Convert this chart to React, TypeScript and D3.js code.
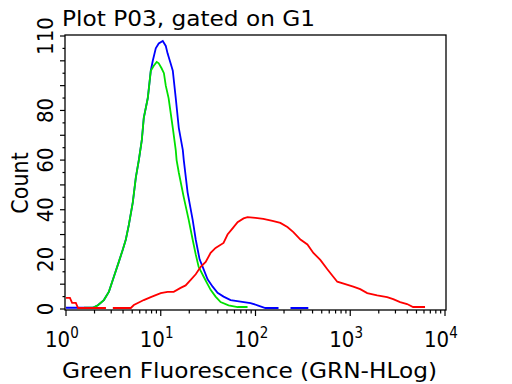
import React from 'react'
import * as d3 from 'd3'

// histogram points: fluorescence (GRN-HLog) and count, null = gap
const blueX = [1.0, 1.92, 2.17, 2.51, 2.84, 3.2, 3.61, 3.98, 4.28, 4.61, 5.07, 5.46, 5.87, 6.31, 6.62, 7.3, 7.85, 8.24, 8.86, 9.52, 10.5, 11.3, 11.8, 12.7, 13.4, 14.4, 15.5, 17.1, 17.5, 19.2, 21.7, 23.4, 25.7, 27.7, 31.2, 35.3, 39.8, 46.0, 54.6, 69.5, 88.6, 105, 127, 175, 200, 234, 361]
const blueY = [0.5, 0.5, 1.5, 3.6, 7, 13, 19, 24, 28, 34, 43, 53, 60, 68, 77, 85, 96, 100, 105, 107, 108, 106, 103, 99, 96, 85, 73, 64, 60, 47, 36, 28, 20, 17, 12, 9, 6.5, 5, 3.6, 3, 2.4, 1.5, 0.4, 0.4, null, 0.4, 0.4]

const greenX = [1.55, 1.92, 2.17, 2.51, 2.84, 3.2, 3.61, 3.98, 4.28, 4.61, 5.07, 5.46, 5.87, 6.31, 6.62, 7.3, 7.85, 8.44, 9.07, 9.52, 10.2, 10.8, 11.3, 12.1, 13.4, 14.4, 14.7, 15.5, 17.5, 19.7, 21.7, 23.4, 25.1, 28.4, 31.2, 33.6, 37.9, 42.8, 52.0, 64.7, 82.4]
const greenY = [0.5, 0.5, 1.5, 3.6, 7, 13, 19, 24, 28, 34, 43, 53, 60, 68, 77, 85, 96, 98, 99.5, 99, 97, 95, 90, 85, 73, 64, 60, 55, 45, 36, 28, 22, 17, 13, 10, 7.7, 5, 2.8, 1.5, 0.8, 0.8]

const redX = [1.0, 1.1, 1.16, 1.27, 1.34, 2.64, 2.9, 3.12, 4.83, 5.2, 6.16, 6.62, 7.85, 8.86, 10.0, 11.8, 13.7, 16.2, 18.3, 20.7, 23.4, 26.4, 29.8, 33.6, 37.9, 46.0, 50.7, 57.3, 64.7, 74.8, 82.4, 100, 121, 151, 183, 217, 251, 298, 353, 408, 483, 573, 662, 730, 886, 1076, 1274, 1510, 1924, 2450, 2838, 3360, 3981, 4604, 6155]
const redY = [4.5, 4.5, 2.5, 2.5, 0.4, 0.4, null, 0.4, 0.4, 1.6, 3, 3.6, 4.8, 5.6, 6.4, 6.9, 6.9, 8.5, 9.5, 11.7, 14, 17, 19, 22.6, 24.6, 26.6, 30, 32.5, 35, 36.5, 37, 36.7, 36.3, 35.5, 34.7, 33, 31, 28, 26, 22.6, 19.8, 16, 13, 11, 10, 9, 8, 6.4, 5.5, 4.8, 4, 2.8, 2, 0.8, 0.8]

const yLabelTicks = [0, 20, 40, 60, 80, 110]
const decades = [0, 1, 2, 3, 4]

const title = 'Plot P03, gated on G1'
const xTitle = 'Green Fluorescence (GRN-HLog)'
const yTitle = 'Count'

const font = 'DejaVu Sans Condensed, DejaVu Sans, sans-serif'
const wideFont = 'DejaVu Sans, Verdana, sans-serif'

export default function App() {
  const left = 65, right = 446, top = 35, bottom = 310

  const x = d3.scaleLog().domain([1, 10000]).range([66, 445])
  const y = d3.scaleLinear().domain([0, 110]).range([309, 36])

  const pathFor = (xs: number[], ys: (number | null)[]) => {
    const pts = xs.map((v, i) => [v, ys[i]] as [number, number | null])
    const gen = d3.line<[number, number | null]>()
      .defined(d => d[1] !== null)
      .x(d => x(d[0]))
      .y(d => y(d[1] as number))
    return gen(pts) || ''
  }

  // minor ticks on the log axis (2..9 in each decade)
  const xMinor: number[] = []
  for (let e = 0; e < 4; e++) for (let m = 2; m < 10; m++) xMinor.push(m * Math.pow(10, e))
  const yMajor = d3.range(0, 111, 10)
  const yMinor = d3.range(5, 110, 10)

  return (
    <div style={{ position: 'fixed', left: 0, top: 0 }}>
      <svg width={512} height={384} style={{ display: 'block', background: '#fff' }}>
        <text x={62} y={26} fontFamily={wideFont} fontSize={22} textLength={253} lengthAdjust="spacingAndGlyphs" fill="#000">{title}</text>

        {/* curves */}
        <path d={pathFor(blueX, blueY)} fill="none" stroke="#0000ff" strokeWidth={1.8} />
        <path d={pathFor(greenX, greenY)} fill="none" stroke="#00e000" strokeWidth={1.8} />
        <path d={pathFor(redX, redY)} fill="none" stroke="#ff0000" strokeWidth={1.8} />

        {/* frame */}
        <rect x={left} y={top} width={right - left} height={bottom - top} fill="none" stroke="#000" strokeWidth={1.3} />

        {/* y ticks */}
        {yMajor.map(v => (
          <line key={'ym' + v} x1={left - 5} x2={left} y1={y(v)} y2={y(v)} stroke="#000" strokeWidth={1.2} />
        ))}
        {yMinor.map(v => (
          <line key={'yn' + v} x1={left - 2.5} x2={left} y1={y(v)} y2={y(v)} stroke="#000" strokeWidth={1.2} />
        ))}
        {yLabelTicks.map(v => (
          <text key={'yl' + v} transform={`translate(${left - 12},${y(v)}) rotate(-90)`} textAnchor="middle"
            fontFamily={font} fontSize={22} fill="#000">{v}</text>
        ))}

        {/* x ticks */}
        {decades.map(e => (
          <line key={'xm' + e} x1={x(Math.pow(10, e))} x2={x(Math.pow(10, e))} y1={bottom} y2={bottom + 6} stroke="#000" strokeWidth={1.2} />
        ))}
        {xMinor.map(v => (
          <line key={'xn' + v} x1={x(v)} x2={x(v)} y1={bottom} y2={bottom + 3.5} stroke="#000" strokeWidth={1.2} />
        ))}
        {decades.map(e => (
          <text key={'xl' + e} x={x(Math.pow(10, e)) - 21} y={347} fontFamily={font} fontSize={22} fill="#000">
            10<tspan dy={-9} fontSize={15}>{e}</tspan>
          </text>
        ))}

        <text x={62} y={378} fontFamily={wideFont} fontSize={22} textLength={375} lengthAdjust="spacingAndGlyphs" fill="#000">{xTitle}</text>
        <text transform="translate(28,183) rotate(-90)" textAnchor="middle" fontFamily={font} fontSize={23} fill="#000">{yTitle}</text>
      </svg>
    </div>
  )
}
